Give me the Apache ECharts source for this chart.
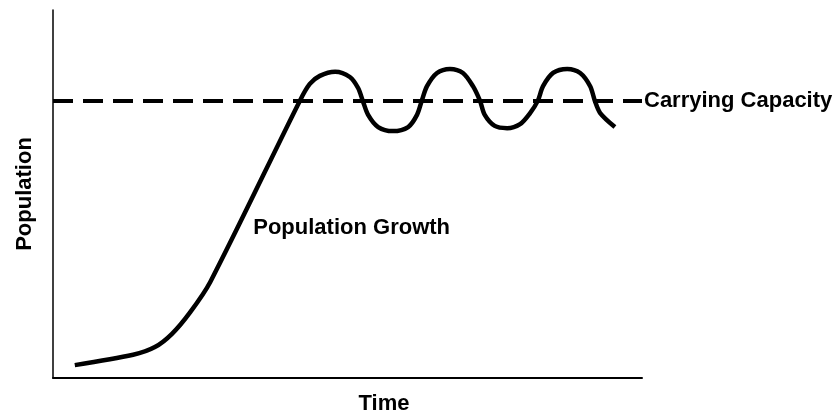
<!DOCTYPE html>
<html>
<head>
<meta charset="utf-8">
<script src="https://cdn.jsdelivr.net/npm/echarts@6/dist/echarts.min.js"></script>
<style>
html,body{margin:0;padding:0;background:#fff;}
#chart{width:839px;height:417px;}
</style>
</head>
<body>
<div id="chart"></div>
<script>
// Time (x) values of the population curve
const timeValues = [3.7, 13.6, 17.3, 20.2, 23.3, 26.7, 41.9, 43.6, 45.3, 47.9, 50.4, 51.8, 52.6, 53.5, 55.2, 57.7, 60.3, 61.8, 62.6, 63.5, 65.2, 67.4, 69.6, 71.3, 72.5, 73.3, 75.0, 77.1, 79.3, 81.0, 82.3, 83.2, 84.9, 87.3, 89.5, 91.2, 92.0, 92.9, 95.4];
// Population (y) values of the curve
const populationValues = [3.5, 6.3, 8.4, 12.0, 17.9, 26.1, 75.3, 79.9, 82.1, 83.2, 81.8, 78.8, 75.3, 71.5, 68.2, 67.1, 68.2, 71.5, 75.3, 79.3, 82.9, 84.0, 82.9, 79.3, 75.3, 71.5, 68.5, 67.9, 69.0, 72.0, 75.3, 79.3, 82.9, 84.0, 82.9, 79.3, 75.3, 72.0, 68.2];
// Carrying capacity level and its x-extent
const carryingCapacity = 75.3;
const capacityRange = [0, 100];
// Annotation anchor for "Population Growth"
const growthLabelPos = [34.0, 40.8];

const font = '"Liberation Sans", Arial, sans-serif';
const curve = timeValues.map((t, i) => [t, populationValues[i]]);
const capLine = capacityRange.map(t => [t, carryingCapacity]);

const chart = echarts.init(document.getElementById('chart'), null, {renderer: 'canvas'});
chart.setOption({
  animation: false,
  backgroundColor: '#fff',
  grid: {left: 53, right: 197, top: 10, bottom: 39, outerBoundsMode: 'none', containLabel: false},
  xAxis: {
    type: 'value', min: 0, max: 100,
    name: 'Time', nameLocation: 'middle', nameGap: 15,
    nameTextStyle: {fontFamily: font, fontWeight: 'bold', fontSize: 22, color: '#000', padding: [0, 0, 0, 73]},
    axisLine: {show: true, onZero: false, lineStyle: {color: '#000', width: 2}},
    axisTick: {show: false}, axisLabel: {show: false}, splitLine: {show: false}
  },
  yAxis: {
    type: 'value', min: 0, max: 100,
    name: 'Population', nameLocation: 'middle', nameGap: 17, nameRotate: 90,
    nameTextStyle: {fontFamily: font, fontWeight: 'bold', fontSize: 22, color: '#000'},
    axisLine: {show: true, onZero: false, lineStyle: {color: '#000', width: 1.5}},
    axisTick: {show: false}, axisLabel: {show: false}, splitLine: {show: false}
  },
  series: [
    {
      type: 'line', data: capLine, symbol: 'none', z: 2,
      lineStyle: {color: '#000', width: 4, type: [20, 10]},
      endLabel: {show: true, formatter: 'Carrying Capacity', distance: 2,
        fontFamily: font, fontWeight: 'bold', fontSize: 22, color: '#000'}
    },
    {
      type: 'line', data: curve, symbol: 'none', smooth: 0.3, z: 3,
      lineStyle: {color: '#000', width: 4.5},
      markPoint: {
        symbol: 'circle', symbolSize: 0,
        data: [{coord: growthLabelPos, label: {show: true, position: 'right', distance: 0,
          formatter: 'Population Growth', fontFamily: font, fontWeight: 'bold', fontSize: 22, color: '#000'}}]
      }
    }
  ]
});
</script>
</body>
</html>
